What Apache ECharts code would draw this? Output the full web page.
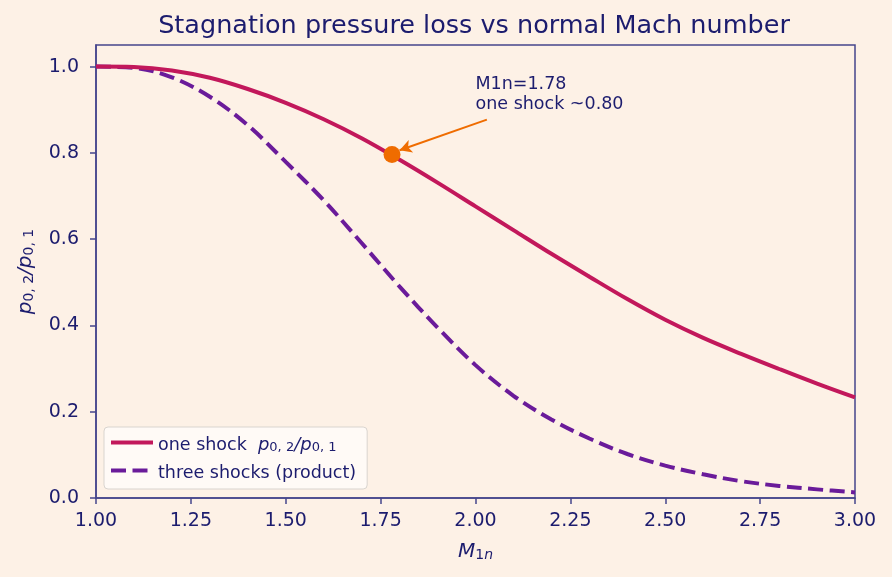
<!DOCTYPE html>
<html>
<head>
<meta charset="utf-8">
<script src="https://cdn.jsdelivr.net/npm/echarts@6/dist/echarts.min.js"></script>
<style>
  html, body { margin: 0; padding: 0; background: #fdf1e6; }
  #chart { width: 892px; height: 577px; }
</style>
</head>
<body>
<div id="chart"></div>
<script>
// values
var machNumbers = [1.0, 1.1, 1.2, 1.3, 1.4, 1.5, 1.6, 1.7, 1.8, 1.9, 2.0,
  2.1, 2.2, 2.3, 2.4, 2.5, 2.6, 2.7, 2.8, 2.9, 3.0]
var oneShock = [1.000, 0.999, 0.991, 0.974, 0.948, 0.916, 0.878, 0.834, 0.784, 0.731, 0.676,
  0.621, 0.566, 0.513, 0.461, 0.413, 0.371, 0.334, 0.299, 0.265, 0.233]
var threeShocks = [1.000, 0.997, 0.975, 0.930, 0.864, 0.779, 0.690, 0.591, 0.490, 0.395, 0.308,
  0.237, 0.182, 0.138, 0.102, 0.075, 0.055, 0.039, 0.028, 0.020, 0.013]
var xTicks = [1.0, 1.25, 1.5, 1.75, 2.0, 2.25, 2.5, 2.75, 3.0]
var yTicks = [0.0, 0.2, 0.4, 0.6, 0.8, 1.0]
var markM = 1.78
var markValue = 0.796
var noteText = ['M1n=1.78', 'one shock ~0.80']
var arrowFrom = [2.03, 0.877]
var arrowTo = [1.80, 0.806]

var ink = '#1c1c6e'
var spine = '#45458c'

function pairs(xs, ys) {
  return xs.map(function (x, i) { return [x, ys[i]] })
}

function subRich(big, small) {
  return {
    i: { fontStyle: 'italic', fontSize: big, color: ink, fontFamily: 'DejaVu Sans', verticalAlign: 'bottom', lineHeight: big + 5 },
    s: { fontSize: small, color: ink, fontFamily: 'DejaVu Sans', verticalAlign: 'bottom', lineHeight: small + 2 },
    t: { fontSize: big - 0.5, color: ink, fontFamily: 'DejaVu Sans', verticalAlign: 'bottom', lineHeight: big + 5 }
  }
}

var chart = echarts.init(document.getElementById('chart'))
chart.setOption({
  backgroundColor: '#fdf1e6',
  animation: false,
  textStyle: { fontFamily: 'DejaVu Sans', color: ink },
  title: {
    text: 'Stagnation pressure loss vs normal Mach number',
    left: 469,
    top: 8,
    textAlign: 'center',
    textStyle: { fontSize: 25.5, fontWeight: 'normal', color: ink, fontFamily: 'DejaVu Sans' }
  },
  grid: {
    left: 96, right: 37, top: 45, bottom: 79,
    show: true, borderColor: spine, borderWidth: 1.5, backgroundColor: 'transparent'
  },
  legend: {
    orient: 'vertical',
    left: 104,
    top: 427,
    padding: [9, 11, 7, 5],
    itemGap: 10,
    itemWidth: 42,
    itemHeight: 14,
    itemStyle: { opacity: 0 },
    lineStyle: { width: 4 },
    backgroundColor: 'rgba(255,252,248,0.85)',
    borderColor: '#d9d4cf',
    borderWidth: 1,
    borderRadius: 4,
    data: ['one shock', 'three shocks (product)'],
    formatter: function (name) {
      if (name === 'one shock') {
        return '{t|one shock  }{i|p}{s|0, 2}{i|/p}{s|0, 1}'
      }
      return '{t|' + name + '}'
    },
    textStyle: { color: ink, fontSize: 17.5, rich: subRich(18, 13) }
  },
  xAxis: {
    type: 'value',
    min: 1.0,
    max: 3.0,
    interval: 0.25,
    name: '{i|M}{s|1}{si|n}',
    nameLocation: 'middle',
    nameGap: 40,
    nameTextStyle: {
      rich: {
        i: { fontStyle: 'italic', fontSize: 20, color: ink, fontFamily: 'DejaVu Sans', verticalAlign: 'bottom', lineHeight: 24 },
        s: { fontSize: 14, color: ink, fontFamily: 'DejaVu Sans', verticalAlign: 'bottom', lineHeight: 18 },
        si: { fontSize: 14, fontStyle: 'italic', color: ink, fontFamily: 'DejaVu Sans', verticalAlign: 'bottom', lineHeight: 18 }
      }
    },
    axisLine: { show: true, lineStyle: { color: spine, width: 1.5 } },
    axisTick: { show: true, inside: false, length: 6, lineStyle: { color: spine, width: 1.5 } },
    axisLabel: {
      margin: 14,
      fontSize: 19,
      color: ink,
      formatter: function (v) {
        return xTicks.some(function (t) { return Math.abs(t - v) < 1e-9 }) ? v.toFixed(2) : ''
      }
    },
    splitLine: { show: false }
  },
  yAxis: {
    type: 'value',
    min: 0,
    max: 1.05,
    interval: 0.2,
    name: '{i|p}{s|0, 2}{i|/p}{s|0, 1}',
    nameLocation: 'middle',
    nameRotate: 90,
    nameGap: 60,
    nameTextStyle: { rich: subRich(20, 14) },
    axisLine: { show: true, lineStyle: { color: spine, width: 1.5 } },
    axisTick: { show: true, inside: false, length: 6, lineStyle: { color: spine, width: 1.5 } },
    axisLabel: {
      margin: 17,
      fontSize: 19,
      color: ink,
      showMaxLabel: false,
      formatter: function (v) {
        return yTicks.some(function (t) { return Math.abs(t - v) < 1e-9 }) ? v.toFixed(1) : ''
      }
    },
    splitLine: { show: false }
  },
  series: [
    {
      name: 'one shock',
      type: 'line',
      data: pairs(machNumbers, oneShock),
      smooth: 0.35,
      symbol: 'none',
      lineStyle: { color: '#c2185b', width: 4 },
      itemStyle: { color: '#c2185b' },
      z: 3,
      markLine: {
        silent: true,
        symbol: ['none', 'arrow'],
        symbolSize: [10, 12],
        label: { show: false },
        lineStyle: { color: '#ef6c00', width: 2, type: 'solid' },
        data: [[{ coord: arrowFrom }, { coord: arrowTo }]]
      }
    },
    {
      name: 'three shocks (product)',
      type: 'line',
      data: pairs(machNumbers, threeShocks),
      smooth: 0.35,
      symbol: 'none',
      lineStyle: { color: '#6a1b9a', width: 4, type: [15, 6.5] },
      itemStyle: { color: '#6a1b9a' },
      z: 2
    },
    {
      name: 'marker',
      type: 'scatter',
      data: [[markM, markValue]],
      symbolSize: 17,
      itemStyle: { color: '#ef6c00', opacity: 1 },
      z: 5,
      markPoint: {
        silent: true,
        symbol: 'circle',
        symbolSize: 0,
        data: [{ coord: [2.0, 0.936] }],
        label: {
          show: true,
          position: 'inside',
          align: 'left',
          verticalAlign: 'middle',
          formatter: noteText.join('\n'),
          fontSize: 17.5,
          lineHeight: 20,
          color: ink,
          fontFamily: 'DejaVu Sans'
        }
      }
    }
  ]
})
</script>
</body>
</html>
